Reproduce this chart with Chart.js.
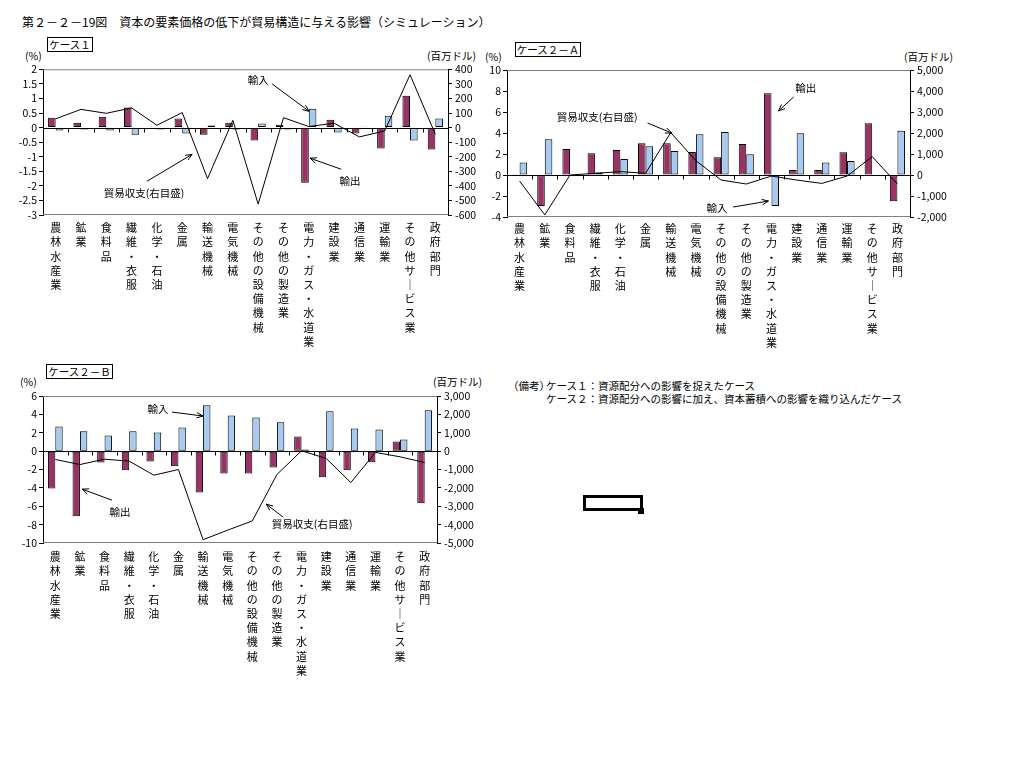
<!DOCTYPE html>
<html><head><meta charset="utf-8">
<script src="https://cdn.jsdelivr.net/npm/chart.js@4"></script>
<style>
body{margin:0;background:#fff;width:1024px;height:768px;position:relative;font-family:"Noto Sans CJK JP",sans-serif;color:#000;overflow:hidden}
.t{position:absolute;white-space:nowrap;font-size:10.5px;line-height:12px}
.box{position:absolute;border:1px solid #000;font-size:10.5px;line-height:13px;text-align:center;white-space:nowrap}
canvas{position:absolute}
</style></head><body>
<div class="t" style="left:22px;top:15px;font-size:12px;line-height:14px">第２－２－19図　資本の要素価格の低下が貿易構造に与える影響（シミュレーション）</div>

<div class="box" style="left:47px;top:37px;width:44px;height:13px">ケース１</div>
<div class="t" style="left:25px;top:50px">(%)</div>
<div class="t" style="left:427px;top:50px">(百万ドル)</div>

<div class="box" style="left:515px;top:42px;width:64px;height:13px">ケース２－Ａ</div>
<div class="t" style="left:485px;top:51px">(%)</div>
<div class="t" style="left:904px;top:51px">(百万ドル)</div>

<div class="box" style="left:46px;top:364px;width:65px;height:13px">ケース２－Ｂ</div>
<div class="t" style="left:20px;top:376px">(%)</div>
<div class="t" style="left:433px;top:376px">(百万ドル)</div>

<div class="t" style="left:508px;top:380px">（備考）</div>
<div class="t" style="left:546px;top:380px">ケース１：資源配分への影響を捉えたケース</div>
<div class="t" style="left:546px;top:393px">ケース２：資源配分への影響に加え、資本蓄積への影響を織り込んだケース</div>

<div style="position:absolute;left:583px;top:495px;width:54px;height:10px;border:3px solid #000"></div>
<div style="position:absolute;left:638px;top:508px;width:6px;height:6px;background:#000"></div>

<canvas id="c1" width="500" height="300" style="left:0;top:60px"></canvas>
<canvas id="c2" width="520" height="300" style="left:470px;top:60px"></canvas>
<canvas id="c3" width="500" height="300" style="left:0;top:385px"></canvas>

<script>
// ---- data ----
const categories = ['農林水産業','鉱業','食料品','繊維・衣服','化学・石油','金属','輸送機械','電気機械','その他の設備機械','その他の製造業','電力・ガス・水道業','建設業','通信業','運輸業','その他サービス業','政府部門'];

const case1Exports = [0.34,0.17,0.375,0.69,0,0.31,-0.25,0.17,-0.44,0.1,-1.89,0.27,-0.2,-0.72,1.09,-0.75];
const case1Imports = [-0.1,-0.07,-0.1,-0.25,-0.07,-0.2,0.07,-0.07,0.14,-0.07,0.65,-0.17,0.03,0.41,-0.44,0.31];
const case1Balance = [60,125,98,135,16,103,-350,50,-525,68,7,30,-64,-23,363,-46];

const case2aExports = [0.07,-2.95,2.48,2.06,2.38,3.02,3.02,2.19,1.68,2.95,7.78,0.48,0.48,2.16,4.92,-2.5];
const case2aImports = [1.2,3.4,0.05,0.25,1.52,2.73,2.29,3.87,4.1,1.97,-2.95,3.97,1.2,1.33,-0.1,4.22];
const case2aBalance = [-290,-1900,0,80,160,80,2020,680,-240,-430,-50,-240,-400,-50,875,-430];

const case2bExports = [-4.07,-7.09,-1.24,-2.07,-1.13,-1.64,-4.51,-2.44,-2.44,-1.78,1.6,-2.84,-2.07,-1.2,1.05,-5.67];
const case2bImports = [2.69,2.15,1.71,2.15,2.04,2.58,4.98,3.89,3.67,3.13,0.18,4.33,2.47,2.36,1.27,4.44];
const case2bBalance = [-455,-730,-440,-545,-1310,-1000,-4820,-4300,-3800,-1270,20,-400,-1710,-70,-310,-620];

const seriesNames = ['貿易収支(右目盛)','輸出','輸入'];

// ---- styling ----
const F = '"Noto Sans CJK JP", sans-serif';
const PURPLE = '#993366';
const BLUE = '#A6CAF0';
const vertLabels = categories.map(c => Array.from(c).map(ch => ch === 'ー' ? '｜' : ch));

function deco(notes){
  return {
    id:'deco',
    beforeDatasetsDraw(chart){
      const a = chart.chartArea, ctx = chart.ctx;
      ctx.save();
      ctx.strokeStyle = '#808080'; ctx.lineWidth = 1;
      ctx.beginPath();
      ctx.moveTo(a.left, a.top + 0.5); ctx.lineTo(a.right, a.top + 0.5);
      ctx.moveTo(a.left, a.bottom - 0.5); ctx.lineTo(a.right, a.bottom - 0.5);
      ctx.stroke();
      ctx.restore();
    },
    afterDatasetsDraw(chart){
      const a = chart.chartArea, ctx = chart.ctx;
      const x = chart.scales.x, y = chart.scales.y;
      const y0 = Math.round(y.getPixelForValue(0)) + 0.5;
      ctx.save();
      ctx.strokeStyle = '#000'; ctx.lineWidth = 1;
      ctx.beginPath();
      ctx.moveTo(a.left, y0); ctx.lineTo(a.right, y0);
      const n = categories.length;
      for (let i = 1; i < n; i++) {
        const px = Math.round(x.getPixelForValue(i - 0.5)) + 0.5;
        ctx.moveTo(px, y0); ctx.lineTo(px, y0 + 4);
      }
      ctx.stroke();
      // annotations
      ctx.font = '10.5px ' + F;
      ctx.fillStyle = '#000';
      ctx.textAlign = 'center'; ctx.textBaseline = 'middle';
      notes.forEach(nt => {
        ctx.fillText(nt.text, x.getPixelForValue(nt.x), y.getPixelForValue(nt.y));
        const x1 = x.getPixelForValue(nt.from[0]), y1 = y.getPixelForValue(nt.from[1]);
        const x2 = x.getPixelForValue(nt.to[0]), y2 = y.getPixelForValue(nt.to[1]);
        ctx.beginPath(); ctx.moveTo(x1, y1); ctx.lineTo(x2, y2); ctx.stroke();
        const ang = Math.atan2(y2 - y1, x2 - x1), L = 7;
        ctx.beginPath();
        ctx.moveTo(x2 - L*Math.cos(ang - 0.4), y2 - L*Math.sin(ang - 0.4));
        ctx.lineTo(x2, y2);
        ctx.lineTo(x2 - L*Math.cos(ang + 0.4), y2 - L*Math.sin(ang + 0.4));
        ctx.stroke();
      });
      ctx.restore();
    }
  };
}

function makeChart(id, o){
  const tickFont = {family:F, size:10.5};
  return new Chart(document.getElementById(id), {
    type:'bar',
    data:{labels: vertLabels, datasets:[
      {type:'line', label:seriesNames[0], data:o.balance, yAxisID:'y1', borderColor:'#000', borderWidth:1, pointRadius:0, tension:0, fill:false, order:0},
      {type:'bar', label:seriesNames[1], data:o.exports, yAxisID:'y', backgroundColor:PURPLE, borderColor:'#000', borderWidth:1, borderSkipped:false, categoryPercentage:0.6, barPercentage:1, order:1},
      {type:'bar', label:seriesNames[2], data:o.imports, yAxisID:'y', backgroundColor:BLUE, borderColor:'#000', borderWidth:1, borderSkipped:false, categoryPercentage:0.6, barPercentage:1, order:1}
    ]},
    options:{
      responsive:false, animation:false, devicePixelRatio:1,
      layout:{padding:{top:o.padTop, left:0, right:0, bottom:0}},
      plugins:{legend:{display:false}, tooltip:{enabled:false}},
      scales:{
        x:{grid:{display:false, drawTicks:false}, border:{display:false},
           ticks:{autoSkip:false, maxRotation:0, minRotation:0, padding:o.labelPad, color:'#000', font:{family:F, size:11, lineHeight:'14.2px'}},
           afterFit:s=>{s.height = o.xH;}},
        y:{position:'left', min:o.yMin, max:o.yMax,
           ticks:{stepSize:o.yStep, autoSkip:false, color:'#000', padding:2, font:tickFont, callback:v=>String(Math.round(v*10)/10)},
           grid:{drawOnChartArea:false, color:'#000', tickLength:4}, border:{color:'#000'},
           afterFit:s=>{s.width = o.leftW;}},
        y1:{position:'right', min:o.y1Min, max:o.y1Max,
           ticks:{stepSize:o.y1Step, autoSkip:false, color:'#000', padding:3, font:tickFont, callback:v=>Math.round(v).toLocaleString('en-US')},
           grid:{drawOnChartArea:false, color:'#000', tickLength:4}, border:{color:'#000'},
           afterFit:s=>{s.width = o.rightW;}}
      }
    },
    plugins:[deco(o.notes)]
  });
}

makeChart('c1', {
  exports:case1Exports, imports:case1Imports, balance:case1Balance,
  yMin:-3, yMax:2, yStep:0.5, y1Min:-600, y1Max:400, y1Step:100,
  padTop:8, xH:145, leftW:43, rightW:52, labelPad:6,
  notes:[
    {text:'輸入', x:8.0, y:1.63, from:[8.55,1.50], to:[10.01,0.56]},
    {text:'輸出', x:11.63, y:-1.84, from:[11.28,-1.43], to:[10.05,-1.05]},
    {text:'貿易収支(右目盛)', x:3.49, y:-2.24, from:[3.61,-1.84], to:[5.39,-0.92]}
  ]
});
makeChart('c2', {
  exports:case2aExports, imports:case2aImports, balance:case2aBalance,
  yMin:-4, yMax:10, yStep:2, y1Min:-2000, y1Max:5000, y1Step:1000,
  padTop:10, xH:143, leftW:37, rightW:80, labelPad:5,
  notes:[
    {text:'輸出', x:11.36, y:8.29, from:[10.88,7.43], to:[10.28,6.1]},
    {text:'輸入', x:7.84, y:-3.14, from:[8.48,-3.05], to:[9.88,-2.48]},
    {text:'貿易収支(右目盛)', x:3.08, y:5.52, from:[5.08,4.95], to:[6.04,4.0]}
  ]
});
makeChart('c3', {
  exports:case2bExports, imports:case2bImports, balance:case2bBalance,
  yMin:-10, yMax:6, yStep:2, y1Min:-5000, y1Max:3000, y1Step:1000,
  padTop:11, xH:142, leftW:43, rightW:63, labelPad:7,
  notes:[
    {text:'輸入', x:4.17, y:4.58, from:[4.74,4.25], to:[6.0,3.82]},
    {text:'輸出', x:2.63, y:-6.65, from:[2.3,-5.34], to:[1.09,-4.14]},
    {text:'貿易収支(右目盛)', x:10.43, y:-7.96, from:[9.26,-7.2], to:[8.57,-5.78]}
  ]
});
</script>
</body></html>
